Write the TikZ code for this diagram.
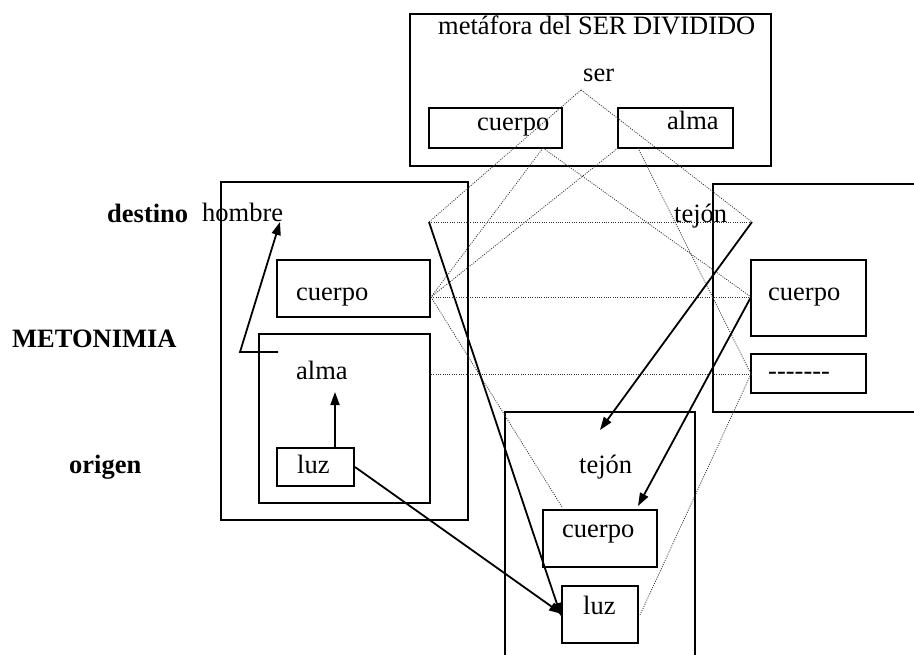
\documentclass[tikz,border=0pt]{standalone}
\usepackage{fontspec}
\setmainfont{Liberation Serif}
\usetikzlibrary{arrows.meta}
\begin{document}
\begin{tikzpicture}[x=1pt,y=-1pt,
  box/.style={draw=black,line width=2.4pt,inner sep=0pt},
  txt/.style={inner sep=0pt,anchor=base west,font=\fontsize{26.5}{30}\selectfont},
  btxt/.style={txt,font=\fontsize{26.5}{30}\selectfont\bfseries},
  dots/.style={draw=black!80,line width=0.8pt,dash pattern=on 1pt off 1.3pt},
  arr/.style={draw=black,line width=1.8pt,-{Triangle[length=13pt,width=9pt]}}]
\useasboundingbox (0,0) rectangle (914,655);
% boxes
\node[box,minimum width=361pt,minimum height=152pt] (topbox) at (590.5,90) {};
\node[box,minimum width=133pt,minimum height=40pt] (tcuerpo) at (495.5,128) {};
\node[box,minimum width=115pt,minimum height=40pt] (talma) at (675.5,128) {};
\node[box,minimum width=247pt,minimum height=338pt] (lbox) at (344.5,351) {};
\node[box,minimum width=153pt,minimum height=57pt] (lcuerpo) at (353.5,288.5) {};
\node[box,minimum width=171pt,minimum height=169pt] (lalma) at (344.5,418.5) {};
\node[box,minimum width=77pt,minimum height=38pt] (lluz) at (315.5,467) {};
\node[box,minimum width=115pt,minimum height=76pt] (rcuerpo) at (808.5,298) {};
\node[box,minimum width=115pt,minimum height=39pt] (rdash) at (808.5,373.5) {};
\node[box,minimum width=114pt,minimum height=57pt] (bcuerpo) at (600,538.5) {};
\node[box,minimum width=76pt,minimum height=57pt] (bluz) at (600,614.5) {};
\coordinate (rb1) at (916,184); \coordinate (rb2) at (713,184);
\coordinate (rb3) at (713,412); \coordinate (rb4) at (916,412);
\draw[line width=2.4pt] (rb1) -- (rb2) -- (rb3) -- (rb4);
\coordinate (bb1) at (505,658); \coordinate (bb2) at (505,412);
\coordinate (bb3) at (695,412); \coordinate (bb4) at (695,658);
\draw[line width=2.4pt] (bb1) -- (bb2) -- (bb3) -- (bb4);
% texts
\node[txt] (title) at (438,35) {metáfora del SER DIVIDIDO};
\node[txt] (ser) at (583,82) {ser};
\node[txt] (tcuerpot) at (477,131) {cuerpo};
\node[txt] (talmat) at (667,130) {alma};
\node[btxt] (destino) at (107,223) {destino};
\node[txt] (hombre) at (202,222) {hombre};
\node[btxt] (metonimia) at (12,348) {METONIMIA};
\node[btxt] (origen) at (69,473) {origen};
\node[txt] (lcuerpot) at (296,301) {cuerpo};
\node[txt] (lalmat) at (296,380) {alma};
\node[txt] (lluzt) at (297,473) {luz};
\node[txt] (rtejon) at (674,223) {tejón};
\node[txt] (rcuerpot) at (768,301) {cuerpo};
\node[txt] (rdasht) at (768,380) {-{}-{}-{}-{}-{}-{}-};
\node[txt] (btejon) at (579,473) {tejón};
\node[txt] (bcuerpot) at (562,537) {cuerpo};
\node[txt] (bluzt) at (583,614) {luz};
% connection points
\coordinate (S) at (581,90);
\coordinate (TC) at (543,148);
\coordinate (TA1) at (618,148);
\coordinate (TA2) at (638,148);
\coordinate (L1) at (429,222);
\coordinate (L2) at (431,297);
\coordinate (L3) at (431,374);
\coordinate (R1) at (752,222);
\coordinate (R2) at (751,297);
\coordinate (R3) at (751,374);
\coordinate (BC) at (562,507);
\coordinate (BL) at (640,615);
% dotted mappings
\draw[dots] (S) -- (L1);
\draw[dots] (S) -- (R1);
\draw[dots] (TC) -- (L2);
\draw[dots] (TC) -- (R2);
\draw[dots] (TA1) -- (L2);
\draw[dots] (TA2) -- (R3);
\draw[dots] (L1) -- (R1);
\draw[dots] (L2) -- (R2);
\draw[dots] (L3) -- (R3);
\draw[dots] (L2) -- (BC);
\draw[dots] (R3) -- (BL);
% solid arrows
\coordinate (a1s) at (335,448); \coordinate (a1e) at (335,392);
\draw[arr] (a1s) -- (a1e);
\coordinate (p1) at (278,352); \coordinate (p2) at (240,352); \coordinate (p3) at (280,222);
\draw[arr] (p1) -- (p2) -- (p3);
\coordinate (a3s) at (355,467); \coordinate (a3e) at (562,614);
\draw[arr] (a3s) -- (a3e);
\coordinate (a4e) at (561,616);
\draw[arr] (L1) -- (a4e);
\coordinate (a5e) at (600,430);
\draw[arr] (R1) -- (a5e);
\coordinate (a6e) at (638,506);
\draw[arr] (R2) -- (a6e);
\end{tikzpicture}
\end{document}
